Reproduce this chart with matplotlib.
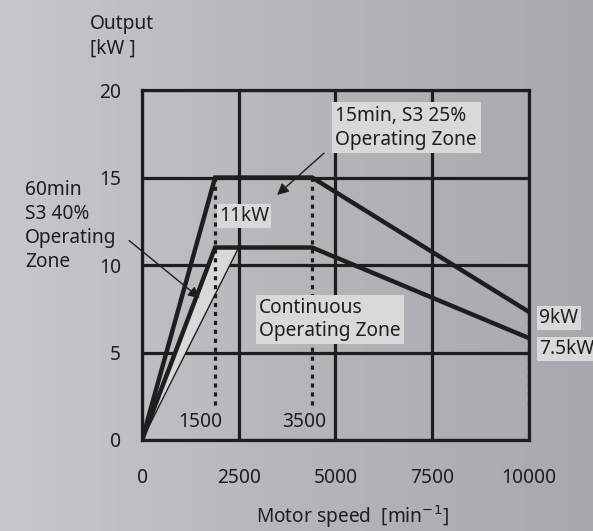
import numpy as np
import matplotlib
matplotlib.use("Agg")
import matplotlib.pyplot as plt

plt.rcParams['font.family'] = ['Noto Sans', 'DejaVu Sans']

# data (schematic output curve)
speed_15min = [0, 1890, 4400, 10000]
power_15min = [0, 15, 15, 7.33]
speed_cont = [0, 1890, 4400, 10000]
power_cont = [0, 11, 11, 5.83]
zone_60_speed = [0, 1890, 2500]
zone_60_power = [0, 11, 11]
marker_speeds = [1890, 4400, 10000]
marker_tops = [15, 15, 7.33]
marker_labels = ["1500", "3500"]
marker_label_x = [1500, 4200]
xticks = [0, 2500, 5000, 7500, 10000]
yticks = [0, 5, 10, 15, 20]
zone60_lines = ["60min", "S3 40%", "Operating", "Zone"]

FS = 13.8
INK = "#1e1e1e"
BOXC = "#d9d9d9"

fig = plt.figure(figsize=(5.93, 5.31), dpi=100)

# gradient background
bg = fig.add_axes([0, 0, 1, 1])
grad = np.linspace(0, 1, 256).reshape(1, -1)
cmap = matplotlib.colors.LinearSegmentedColormap.from_list(
    "bg", ["#c6c8cb", "#b5b6b8", "#a8a9ac"])
bg.imshow(grad, aspect="auto", cmap=cmap, extent=[0, 1, 0, 1])
bg.set_axis_off()

ax = fig.add_axes([0.2395, 0.1714, 0.652, 0.659])
ax.patch.set_alpha(0)
ax.set_xlim(0, 10000)
ax.set_ylim(0, 20)
ax.set_xticks(xticks)
ax.set_yticks(yticks)
ax.tick_params(length=0, labelsize=FS, colors=INK)
ax.tick_params(axis="x", pad=20)
ax.tick_params(axis="y", pad=15)
for s in ax.spines.values():
    s.set_linewidth(2.3)
    s.set_color(INK)
ax.grid(True, color=INK, linewidth=2.3)
ax.set_axisbelow(True)

# 60 min zone
ax.fill(zone_60_speed, zone_60_power, facecolor=BOXC,
        edgecolor=INK, linewidth=1.0, zorder=3)

ax.plot(speed_15min, power_15min, color=INK, lw=3.2, zorder=4,
        solid_joinstyle="miter")
ax.plot(speed_cont, power_cont, color=INK, lw=3.2, zorder=4,
        solid_joinstyle="miter")

for xs, top in zip(marker_speeds, marker_tops):
    ax.plot([xs, xs], [2.0, top], color=INK, lw=2.3,
            linestyle=(0, (1.3, 1.5)), zorder=3)

for lab, xl in zip(marker_labels, marker_label_x):
    ax.text(xl, 1.0, lab, ha="center", va="center", fontsize=FS, color=INK)

box = dict(boxstyle="square,pad=0.12", facecolor=BOXC, edgecolor="none")
ax.text(1990, 12.8, "11kW", fontsize=FS, va="center", ha="left",
        bbox=box, zorder=5, color=INK)
ax.text(3030, 6.9, "Continuous\nOperating Zone", fontsize=FS, va="center",
        ha="left", bbox=dict(boxstyle="square,pad=0.15", facecolor=BOXC,
                             edgecolor="none"),
        zorder=5, linespacing=1.2, color=INK)
ax.text(10270, 6.97, "9kW", fontsize=FS, va="center", ha="left",
        bbox=box, zorder=5, clip_on=False, color=INK)
ax.text(10270, 5.2, "7.5kW", fontsize=FS, va="center", ha="left",
        bbox=box, zorder=5, clip_on=False, color=INK)
ax.text(5000, 17.85, "15min, S3 25%\nOperating Zone", fontsize=FS,
        va="center", ha="left", linespacing=1.25, color=INK,
        bbox=dict(boxstyle="square,pad=0.2", facecolor=BOXC,
                  edgecolor="none"), zorder=5)

# arrows
ax.annotate("", xy=(3440, 13.9), xytext=(4760, 16.5),
            arrowprops=dict(arrowstyle="-|>", color=INK, lw=1.0,
                            mutation_scale=17), zorder=6)
ax.annotate("", xy=(1550, 8.0), xytext=(-390, 11.5),
            arrowprops=dict(arrowstyle="-|>", color=INK, lw=1.0,
                            mutation_scale=17), zorder=6,
            annotation_clip=False)

fig.text(90 / 593, 1 - 24 / 531, "Output", fontsize=FS, va="center",
         ha="left", color=INK)
fig.text(90 / 593, 1 - 49 / 531, "[kW ]", fontsize=FS, va="center",
         ha="left", color=INK)
for i, line in enumerate(zone60_lines):
    fig.text(25 / 593, 1 - (190 + 24 * i) / 531, line, fontsize=FS,
             va="center", ha="left", color=INK)
fig.text(352 / 593, 1 - 517 / 531, "Motor speed  [min$^{-1}$]", fontsize=FS,
         va="center", ha="center", color=INK)

fig.savefig("out.png", dpi=100)
